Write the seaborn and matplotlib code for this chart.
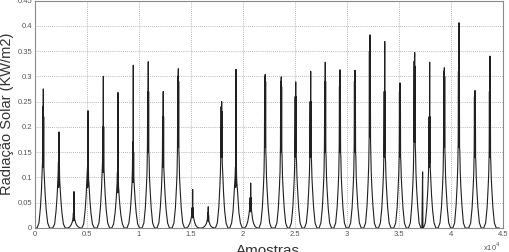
import matplotlib
matplotlib.use("Agg")
import matplotlib.pyplot as plt
import seaborn as sns
import pandas as pd

# ---- data ----
# sample index of each day's main peak
day_peak_pos = [800, 2310, 3750, 5100, 6570, 7980, 9450, 10890, 12330, 13780,
                15160, 16660, 17950, 19330, 20740, 22140, 23680, 25070, 26510, 27910,
                29330, 30770, 32210, 33630, 35100, 36510, 37950, 39360, 40770, 42310,
                43750]
# sample offsets (relative to the day's peak) at which each day profile is read
day_offsets = [-600, -420, -280, -180, -120, -80, -55, -35, -15, 0,
               15, 35, 55, 80, 120, 180, 280, 420, 600]
# radiation values (kW/m2) for each day at the offsets above
day_values = [
    [0, .010, .040, .075, .105, .130, .240, .120, .200, .275, .130, .220, .120, .110, .090, .065, .035, .010, 0],
    [0, .008, .035, .065, .090, .110, .130, .080, .120, .190, .090, .135, .100, .090, .075, .055, .030, .008, 0],
    [0, .002, .006, .011, .016, .022, .030, .014, .028, .072, .016, .030, .018, .016, .013, .009, .005, .002, 0],
    [0, .008, .035, .065, .090, .105, .120, .080, .110, .232, .085, .120, .095, .090, .075, .055, .030, .008, 0],
    [0, .010, .040, .075, .105, .130, .200, .110, .190, .300, .120, .200, .120, .110, .090, .065, .035, .010, 0],
    [0, .008, .030, .055, .075, .090, .110, .070, .100, .268, .070, .100, .080, .075, .060, .045, .025, .008, 0],
    [0, .010, .035, .065, .090, .120, .170, .090, .160, .322, .100, .150, .100, .090, .075, .055, .030, .008, 0],
    [0, .010, .040, .080, .110, .160, .270, .150, .250, .329, .150, .270, .150, .140, .100, .075, .040, .010, 0],
    [0, .010, .040, .075, .105, .140, .220, .120, .210, .270, .120, .220, .120, .110, .090, .065, .035, .010, 0],
    [0, .010, .040, .080, .110, .160, .300, .160, .280, .315, .160, .290, .150, .140, .100, .075, .040, .010, 0],
    [0, .003, .009, .016, .022, .030, .040, .020, .035, .076, .022, .040, .026, .022, .018, .012, .006, .002, 0],
    [0, .002, .005, .009, .013, .018, .030, .014, .028, .042, .014, .025, .015, .012, .010, .006, .003, .001, 0],
    [0, .010, .040, .080, .110, .150, .240, .140, .230, .250, .140, .230, .130, .120, .100, .070, .035, .010, 0],
    [0, .010, .035, .070, .090, .105, .120, .080, .110, .314, .085, .120, .100, .090, .080, .060, .030, .010, 0],
    [0, .004, .013, .025, .035, .045, .060, .032, .055, .089, .035, .060, .040, .035, .028, .018, .009, .003, 0],
    [0, .010, .040, .080, .110, .160, .300, .160, .290, .304, .160, .290, .150, .140, .100, .075, .040, .010, 0],
    [0, .010, .040, .080, .110, .160, .290, .150, .280, .299, .160, .280, .150, .140, .100, .075, .040, .010, 0],
    [0, .010, .040, .080, .110, .150, .260, .140, .250, .289, .150, .260, .140, .130, .100, .075, .040, .010, 0],
    [0, .010, .040, .080, .110, .150, .250, .140, .240, .310, .140, .250, .140, .130, .100, .075, .040, .010, 0],
    [0, .010, .040, .080, .110, .160, .290, .150, .280, .328, .160, .290, .150, .140, .100, .075, .040, .010, 0],
    [0, .010, .040, .080, .110, .160, .280, .150, .270, .313, .150, .280, .150, .140, .100, .075, .040, .010, 0],
    [0, .010, .040, .080, .110, .160, .290, .150, .280, .312, .160, .290, .150, .140, .100, .075, .040, .010, 0],
    [0, .010, .045, .090, .125, .180, .350, .180, .340, .382, .180, .340, .170, .150, .110, .080, .045, .010, 0],
    [0, .010, .040, .080, .110, .150, .270, .140, .260, .369, .150, .270, .140, .130, .100, .075, .040, .010, 0],
    [0, .010, .040, .080, .110, .150, .270, .140, .260, .287, .150, .270, .140, .130, .100, .075, .040, .010, 0],
    [0, .010, .045, .085, .120, .170, .330, .170, .320, .347, .170, .320, .160, .150, .110, .080, .045, .010, 0],
    [0, .010, .040, .075, .105, .140, .220, .120, .210, .328, .130, .220, .120, .110, .090, .065, .035, .010, 0],
    [0, .010, .040, .080, .110, .160, .310, .160, .300, .317, .160, .300, .150, .140, .100, .075, .040, .010, 0],
    [0, .010, .045, .085, .120, .170, .310, .160, .300, .406, .170, .310, .160, .150, .110, .080, .045, .010, 0],
    [0, .010, .040, .080, .110, .150, .260, .140, .250, .272, .150, .260, .140, .130, .100, .075, .040, .010, 0],
    [0, .010, .040, .080, .110, .150, .270, .140, .260, .340, .150, .270, .140, .130, .100, .075, .040, .010, 0],
]
# isolated spike between days 26 and 27
spike_pos = [37200, 37270, 37300]
spike_vals = [0, 0.111, 0]
series_end = 44640

x_ticks = [0, 5000, 10000, 15000, 20000, 25000, 30000, 35000, 40000, 45000]
x_tick_labels = ["0", "0.5", "1", "1.5", "2", "2.5", "3", "3.5", "4", "4.5"]
y_ticks = [0, 0.05, 0.1, 0.15, 0.2, 0.25, 0.3, 0.35, 0.4, 0.45]
y_tick_labels = ["0", "0.05", "0.1", "0.15", "0.2", "0.25", "0.3", "0.35", "0.4", "0.45"]

# ---- build the table ----
xs, ys = [0], [0.0]
for pos, vals in zip(day_peak_pos, day_values):
    if pos == day_peak_pos[26]:
        xs += spike_pos
        ys += spike_vals
    for off, v in zip(day_offsets, vals):
        xs.append(pos + off)
        ys.append(v)
xs.append(series_end)
ys.append(0.0)
df = pd.DataFrame({"Amostras": xs, "Radiacao": ys})

# ---- plot ----
sns.set_style("white")
plt.rcParams["font.family"] = ["Liberation Sans", "DejaVu Sans"]

fig = plt.figure(figsize=(5.09, 2.52), dpi=100)
ax = fig.add_axes([35 / 509, 1 - 228 / 252, 468 / 509, 228 / 252 - 0.002])

sns.lineplot(data=df, x="Amostras", y="Radiacao", estimator=None, sort=False,
             color="#202020", linewidth=0.8, ax=ax)

ax.set_xlim(0, 45000)
ax.set_ylim(0, 0.45)
ax.set_xticks(x_ticks)
ax.set_xticklabels(x_tick_labels)
ax.set_yticks(y_ticks)
ax.set_yticklabels(y_tick_labels)
ax.tick_params(axis="both", labelsize=5.5, colors="#555555", direction="in",
               length=2, width=0.5, pad=2)
ax.grid(True, linestyle=(0, (1, 1.5)), color="#a0a0a0", linewidth=0.6)
for s in ax.spines.values():
    s.set_color("#8a8a8a")
    s.set_linewidth(0.8)

ax.set_xlabel("")
ax.set_ylabel("")
fig.text(0.014, (1 - 228 / 252 + 1) / 2, "Radiação Solar (KW/m2)", rotation=90,
         ha="center", va="center", fontsize=10.5, color="#333333")
fig.text(268 / 509, 1 - 244 / 252, "Amostras", ha="center", va="top",
         fontsize=11, color="#333333")
fig.text(483 / 509, 1 - 241 / 252, r"x10$^{4}$", ha="left", va="top",
         fontsize=5.5, color="#555555")

fig.savefig("out.png", dpi=100)
